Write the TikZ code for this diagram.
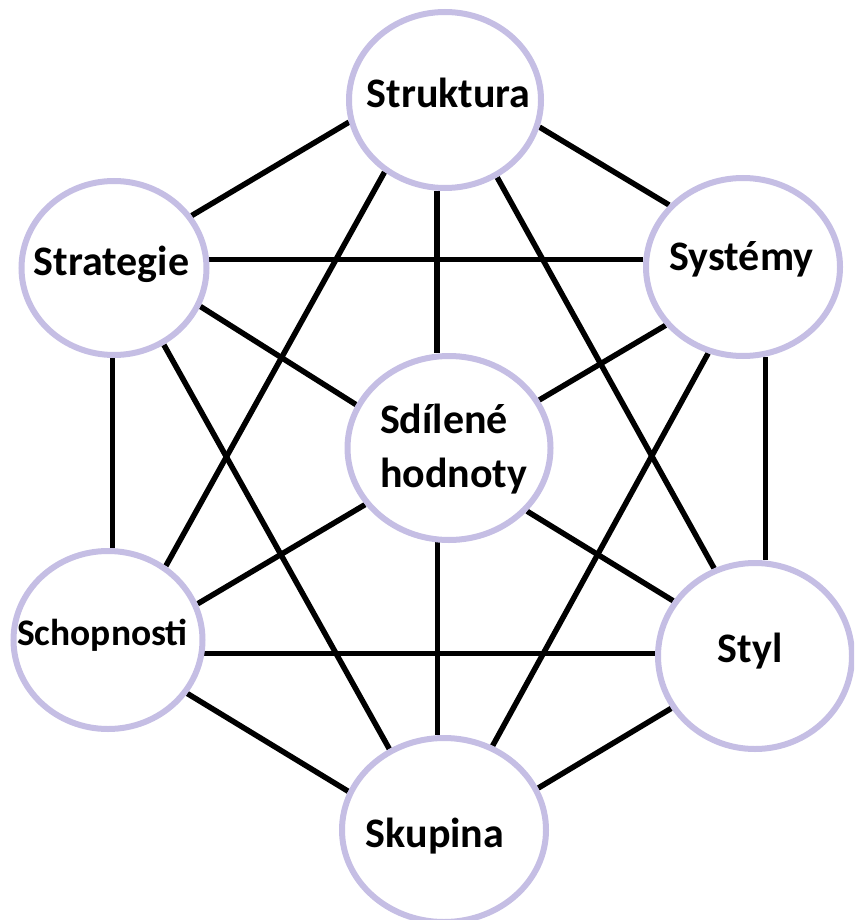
\documentclass[tikz,border=0pt]{standalone}
\usepackage{fontspec}
\setmainfont{Carlito}
\usetikzlibrary{shapes.geometric,backgrounds}
\definecolor{lav}{RGB}{197,190,228}
\begin{document}
\begin{tikzpicture}[x=1pt,y=-1pt,
  bubble/.style={ellipse, draw=lav, line width=6pt, fill=white, inner sep=0pt},
  lbl/.style={inner sep=0pt, outer sep=0pt, anchor=base, font=\fontsize{42}{50}\selectfont\bfseries, text=black},
  lblsmall/.style={lbl, font=\fontsize{37.5}{45}\selectfont\bfseries},
  link/.style={draw=black, line width=5.5pt}]
\useasboundingbox (0,0) rectangle (854,920);
\clip (0,0) rectangle (854,920);
% bubbles
\node[bubble, minimum width=192pt, minimum height=176pt] (struk) at (445,100) {};
\node[bubble, minimum width=185pt, minimum height=174pt] (strat) at (114,268) {};
\node[bubble, minimum width=194pt, minimum height=178pt] (sys) at (743,267) {};
\node[bubble, minimum width=203pt, minimum height=184pt] (sdil) at (449,448) {};
\node[bubble, minimum width=189pt, minimum height=178pt] (schop) at (108,640) {};
\node[bubble, minimum width=194pt, minimum height=186pt] (styl) at (755,656) {};
\node[bubble, minimum width=204pt, minimum height=184pt] (skup) at (444,830) {};
% labels
\node[lbl] (tstruk) at (448.5,108) {Struktura};
\node[lbl] (tstrat) at (111.5,275) {Strategie};
\node[lbl] (tsys) at (741.5,270) {Systémy};
\node[lblsmall] (tschop) at (102.5,645) {Schopnosti};
\node[lbl] (tstyl) at (750,662) {Styl};
\node[lbl] (tskup) at (435,847) {Skupina};
\node[lbl, anchor=base west] (tsdil1) at (380,433) {Sdílené};
\node[lbl, anchor=base west] (tsdil2) at (380,487) {hodnoty};
% connectors
\begin{pgfonlayer}{background}
\draw[link] (struk.193) -- (strat.34);
\draw[link] (struk.344) -- (sys.140);
\draw[link] (struk.265) -- (struk.265 |- sdil.north);
\draw[link] (struk.230) -- (schop.52);
\draw[link] (struk.304) -- (styl.115);
\draw[link] (strat.5) -- (strat.5 -| sys.west);
\draw[link] (strat.336) -- (sdil.155);
\draw[link] (strat.303) -- (skup.124);
\draw[link] (strat.269) -- (strat.269 |- schop.north);
\draw[link] (sys.217) -- (sdil.28);
\draw[link] (sys.248) -- (skup.60);
\draw[link] (sys.284) -- (sys.284 |- styl.north);
\draw[link] (sdil.214) -- (schop.22);
\draw[link] (sdil.321) -- (styl.146);
\draw[link] (sdil.263) -- (sdil.263 |- skup.north);
\draw[link] (schop.352) -- (schop.352 -| styl.west);
\draw[link] (schop.326) -- (skup.158);
\draw[link] (styl.212) -- (skup.24);
\end{pgfonlayer}
\end{tikzpicture}
\end{document}
